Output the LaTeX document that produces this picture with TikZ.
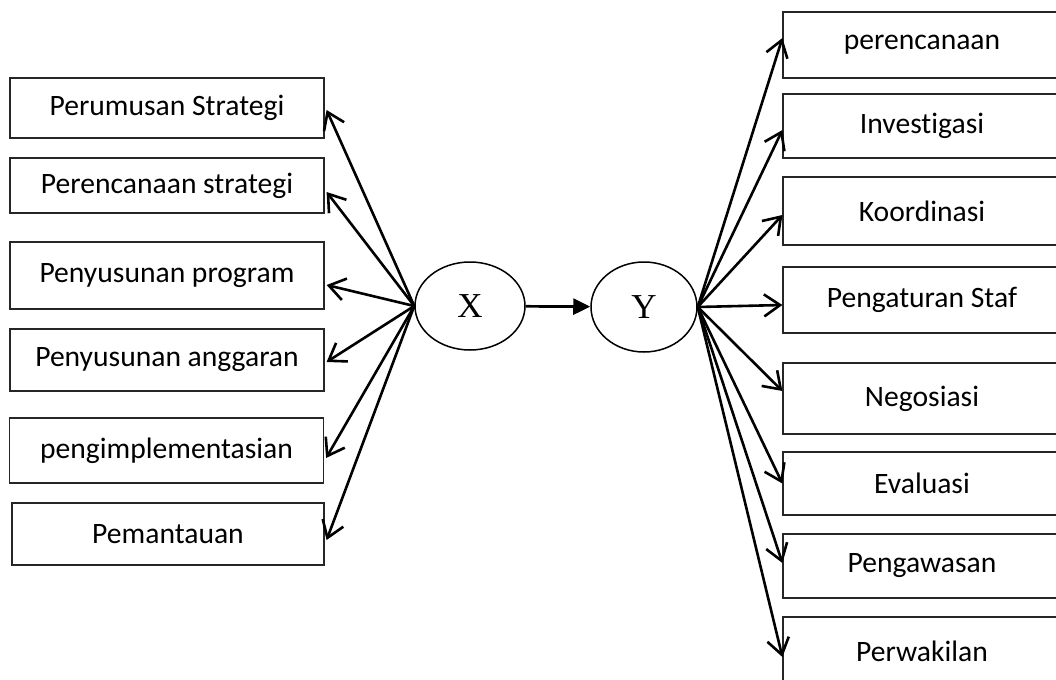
\documentclass[tikz,border=0pt]{standalone}
\usepackage{fontspec}
\setmainfont{Carlito}[Ligatures=NoCommon]
\newfontfamily\timesfont{Liberation Serif}
\usetikzlibrary{arrows.meta,shapes.geometric}

\begin{document}
\begin{tikzpicture}[x=0.5pt, y=-0.5pt,
        box/.style={draw=black!85, line width=0.6pt, rectangle, inner sep=0pt, font=\fontsize{14.8}{17}\selectfont},
        lbox/.style={box, minimum width=157pt},
        rbox/.style={box, minimum width=139pt},
        oval/.style={draw, ellipse, line width=0.75pt, inner sep=0pt, font=\timesfont\fontsize{17.5}{19}\selectfont},
        spoke/.style={-{Straight Barb[length=8pt,width=11pt]}, line width=1.3pt}]
        \useasboundingbox (0,0) rectangle (1056,680);

        \node[oval, minimum width=55pt, minimum height=44pt] (x) at (470,306) {X};
        \node[oval, minimum width=53pt, minimum height=45pt] (y) at (644,307) {Y};

        % left side
        \node[lbox, minimum height=30pt] (l1) at (167,108) {Perumusan Strategi};
        \node[lbox, minimum height=27.5pt] (l2) at (167,185.5) {Perencanaan strategi};
        \node[lbox, minimum height=33.5pt] (l3) at (167,275.5) {Penyusunan program};
        \node[lbox, minimum height=31pt] (l4) at (167,360) {Penyusunan anggaran};
        \node[lbox, minimum height=32.5pt] (l5) at (166.5,450.5) {pengimplementasian};
        \node[lbox, minimum width=156pt, minimum height=31pt] (l6) at (168,534) {Pemantauan};

        % right side
        \node[rbox, minimum height=33pt] (r1) at (922,45) {perencanaan};
        \node[rbox, minimum height=32pt] (r2) at (922,126) {Investigasi};
        \node[rbox, minimum height=34pt] (r3) at (922,211) {Koordinasi};
        \node[rbox, minimum height=33pt] (r4) at (922,300) {Pengaturan Staf};
        \node[rbox, minimum height=35.5pt] (r5) at (922,398.5) {Negosiasi};
        \node[rbox, minimum height=31.5pt] (r6) at (922,483.5) {Evaluasi};
        \node[rbox, minimum height=32pt] (r7) at (922,566) {Pengawasan};
        \node[rbox, minimum height=34pt] (r8) at (922,651) {Perwakilan};

        \draw[-{Triangle[length=8.5pt,width=8pt]}, line width=1.35pt] (x) -- (y);
        % tips sit a little off the box middles
        \foreach \i/\d in {1/2,2/6.5,3/9.5,4/2,5/7.5,6/6}
            \draw[spoke] (x.west) -- ([shift={(2,\d)}]l\i.east);
        \foreach \i/\d in {1/-7,2/4,3/4,4/5,5/-7.5,6/0,7/-3,8/6}
            \draw[spoke] (y.east) -- ([yshift=-\d*0.5pt]r\i.west);
    \end{tikzpicture}
\end{document}
